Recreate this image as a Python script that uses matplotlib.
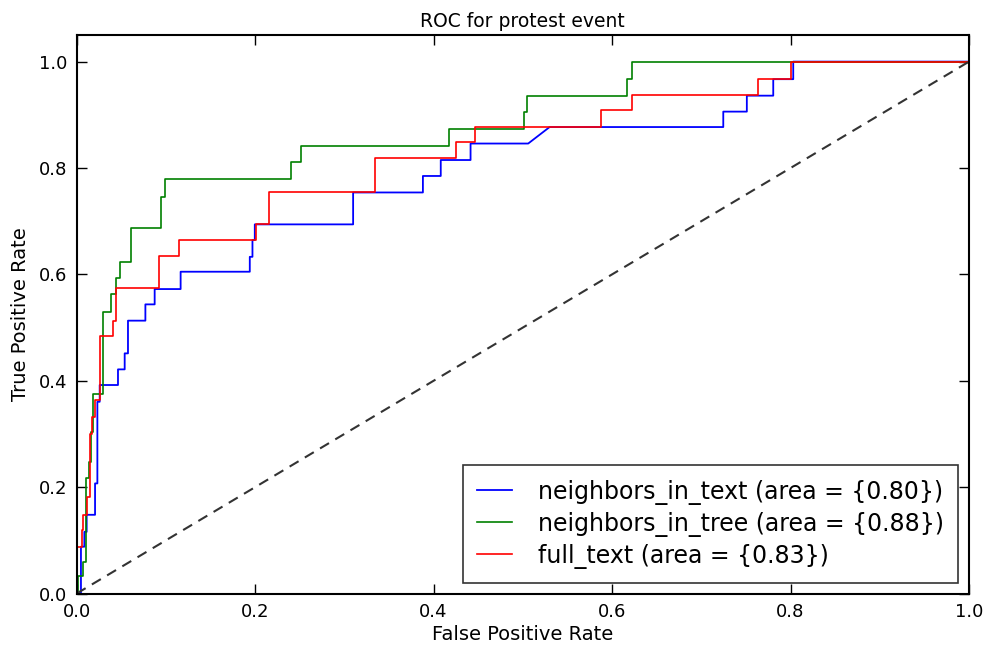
import matplotlib
matplotlib.use("Agg")
import matplotlib.pyplot as plt

# ROC curve vertices (false positive rate, true positive rate)
fpr_text = [0, 0.0048, 0.0048, 0.0086, 0.0086, 0.0112, 0.0112, 0.0206, 0.0206, 0.0232,
            0.0232, 0.0258, 0.0258, 0.0463, 0.0463, 0.0538, 0.0538, 0.0575, 0.0575, 0.077,
            0.077, 0.0874, 0.0874, 0.1165, 0.1165, 0.194, 0.194, 0.197, 0.197, 0.1996,
            0.1996, 0.3098, 0.3098, 0.388, 0.388, 0.408, 0.408, 0.4414, 0.4414, 0.506,
            0.530, 0.7246, 0.7246, 0.751, 0.751, 0.7806, 0.7806, 0.803, 0.803, 1.0]
tpr_text = [0, 0, 0.088, 0.088, 0.116, 0.116, 0.148, 0.148, 0.207, 0.207,
            0.3605, 0.3605, 0.392, 0.392, 0.4214, 0.4214, 0.4515, 0.4515, 0.513, 0.513,
            0.5436, 0.5436, 0.5724, 0.5724, 0.605, 0.605, 0.633, 0.633, 0.6645, 0.6645,
            0.694, 0.694, 0.754, 0.754, 0.785, 0.785, 0.815, 0.815, 0.846, 0.846,
            0.877, 0.877, 0.906, 0.906, 0.936, 0.936, 0.967, 0.967, 1.0, 1.0]

fpr_tree = [0, 0.0015, 0.0015, 0.0071, 0.0071, 0.011, 0.011, 0.0138, 0.0138, 0.0164,
            0.0164, 0.0178, 0.0178, 0.029, 0.029, 0.038, 0.038, 0.0445, 0.0445, 0.048,
            0.048, 0.0605, 0.0605, 0.094, 0.094, 0.0987, 0.0987, 0.240, 0.240, 0.251,
            0.251, 0.4174, 0.4174, 0.501, 0.501, 0.505, 0.505, 0.617, 0.617, 0.622,
            0.622, 1.0]
tpr_tree = [0, 0, 0.032, 0.032, 0.06, 0.06, 0.2165, 0.2165, 0.248, 0.248,
            0.304, 0.304, 0.375, 0.375, 0.5286, 0.5286, 0.563, 0.563, 0.5936, 0.5936,
            0.6225, 0.6225, 0.6865, 0.6865, 0.746, 0.746, 0.780, 0.780, 0.8117, 0.8117,
            0.841, 0.841, 0.874, 0.874, 0.906, 0.906, 0.935, 0.935, 0.968, 0.968,
            1.0, 1.0]

fpr_full = [0, 0, 0.0056, 0.0056, 0.0075, 0.0075, 0.0112, 0.0112, 0.015, 0.015,
            0.0176, 0.0176, 0.020, 0.020, 0.0265, 0.0265, 0.0407, 0.0407, 0.0445, 0.0445,
            0.0923, 0.0923, 0.1147, 0.1147, 0.2015, 0.2015, 0.2156, 0.2156, 0.334, 0.334,
            0.425, 0.425, 0.4466, 0.4466, 0.588, 0.588, 0.622, 0.622, 0.764, 0.764,
            0.801, 0.801, 1.0]
tpr_full = [0, 0.088, 0.088, 0.119, 0.119, 0.148, 0.148, 0.182, 0.182, 0.30,
            0.30, 0.332, 0.332, 0.364, 0.364, 0.484, 0.484, 0.513, 0.513, 0.574,
            0.574, 0.634, 0.634, 0.6645, 0.6645, 0.694, 0.694, 0.754, 0.754, 0.819,
            0.819, 0.848, 0.848, 0.878, 0.878, 0.909, 0.909, 0.938, 0.938, 0.968,
            0.968, 1.0, 1.0]

labels = ['neighbors_in_text (area = {0.80})',
          'neighbors_in_tree (area = {0.88})',
          'full_text (area = {0.83})']
colors = ['b', 'g', 'r']

fig = plt.figure(figsize=(9.88, 6.51), dpi=100)
ax = fig.add_axes([0.0776, 0.0883, 0.9032, 0.8579])

ax.plot(fpr_text, tpr_text, color=colors[0], lw=1.3, label=labels[0])
ax.plot(fpr_tree, tpr_tree, color=colors[1], lw=1.2, label=labels[1])
ax.plot(fpr_full, tpr_full, color=colors[2], lw=1.2, label=labels[2])
ax.plot([0, 1], [0, 1], color='0.2', lw=1.5, linestyle=(0, (5, 3.5)))

ax.set_xlim(0.0, 1.0)
ax.set_ylim(0.0, 1.05)
ax.set_xticks([0.0, 0.2, 0.4, 0.6, 0.8, 1.0])
ax.set_yticks([0.0, 0.2, 0.4, 0.6, 0.8, 1.0])
ax.tick_params(direction='in', top=True, right=True, length=7, width=1,
               labelsize=13, pad=7)
for sp in ax.spines.values():
    sp.set_linewidth(1.5)

ax.set_xlabel('False Positive Rate', fontsize=14, labelpad=3)
ax.set_ylabel('True Positive Rate', fontsize=14, labelpad=6)
ax.set_title('ROC for protest event', fontsize=13.5)

leg = ax.legend(loc='lower right', fontsize=17, handlelength=1.5, handletextpad=1.1,
                borderpad=0.6, labelspacing=0.3, borderaxespad=0.45, fancybox=False)
leg.get_frame().set_edgecolor('black')
leg.get_frame().set_linewidth(1.2)

fig.savefig('out.png', dpi=100)
